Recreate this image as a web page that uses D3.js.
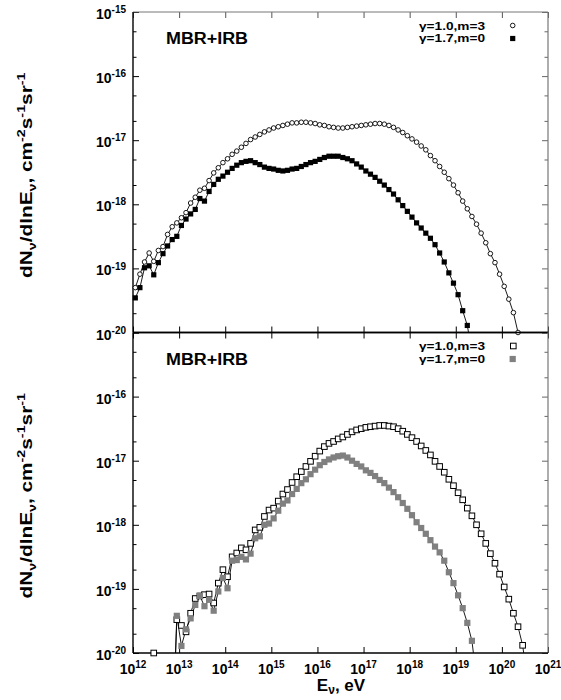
<!DOCTYPE html>
<html><head><meta charset="utf-8">
<script src="https://cdn.jsdelivr.net/npm/d3@7"></script>
<style>
body{margin:0;background:#fff}
svg{display:block}
text{font-family:"Liberation Sans",Arial,Helvetica,sans-serif;font-weight:bold;fill:#000}
</style>
</head><body>
<svg id="c" width="561" height="700"></svg>
<script>
// ---------- DATA (log10 values) ----------
const logE = [
 12.05,12.15,12.25,12.35,12.45,12.55,12.65,12.75,12.85,12.95,
 13.05,13.15,13.25,13.35,13.45,13.55,13.65,13.75,13.85,13.95,
 14.05,14.15,14.25,14.35,14.45,14.55,14.65,14.75,14.85,14.95,
 15.05,15.15,15.25,15.35,15.45,15.55,15.65,15.75,15.85,15.95,
 16.05,16.15,16.25,16.35,16.45,16.55,16.65,16.75,16.85,16.95,
 17.05,17.15,17.25,17.35,17.45,17.55,17.65,17.75,17.85,17.95,
 18.05,18.15,18.25,18.35,18.45,18.55,18.65,18.75,18.85,18.95,
 19.05,19.15,19.25,19.35,19.45,19.55,19.65,19.75,19.85,19.95,
 20.05,20.15,20.25,20.35,20.45,20.55];

// top panel, gamma=1.0, m=3 (open circles): log10 dN/dlnE
const topOpen = [
 -19.30,-19.09,-18.90,-18.76,-18.89,-18.72,-18.66,-18.47,-18.35,-18.29,
 -18.21,-18.13,-17.98,-17.89,-17.78,-17.75,-17.63,-17.51,-17.43,-17.35,
 -17.29,-17.22,-17.17,-17.11,-17.05,-16.99,-16.95,-16.91,-16.87,-16.84,
 -16.81,-16.79,-16.77,-16.75,-16.73,-16.73,-16.72,-16.72,-16.73,-16.74,
 -16.76,-16.77,-16.79,-16.80,-16.81,-16.81,-16.80,-16.79,-16.78,-16.77,
 -16.76,-16.75,-16.74,-16.74,-16.75,-16.77,-16.80,-16.84,-16.88,-16.93,
 -16.98,-17.03,-17.09,-17.15,-17.24,-17.32,-17.41,-17.50,-17.60,-17.70,
 -17.82,-17.95,-18.07,-18.19,-18.31,-18.45,-18.60,-18.77,-18.91,-19.09,
 -19.28,-19.48,-19.69,-20.00,null,null];

// top panel, gamma=1.7, m=0 (filled black squares)
const topFilled = [
 -19.46,-19.30,-18.99,-18.96,-19.10,-18.91,-18.77,-18.65,-18.55,-18.50,
 -18.33,-18.23,-18.15,-18.08,-17.91,-17.95,-17.80,-17.69,-17.61,-17.56,
 -17.50,-17.44,-17.39,-17.35,-17.33,-17.32,-17.35,-17.38,-17.42,-17.44,
 -17.45,-17.47,-17.48,-17.47,-17.45,-17.44,-17.41,-17.38,-17.35,-17.33,
 -17.30,-17.27,-17.25,-17.25,-17.25,-17.27,-17.29,-17.32,-17.37,-17.42,
 -17.48,-17.53,-17.58,-17.64,-17.70,-17.77,-17.84,-17.93,-18.02,-18.11,
 -18.20,-18.29,-18.37,-18.45,-18.53,-18.63,-18.76,-18.90,-19.07,-19.23,
 -19.41,-19.66,-19.89,-20.30,null,null,null,null,null,null,
 null,null,null,null,null,null];

// bottom panel, gamma=1.0, m=3 (open squares)
const botOpen = [
 null,null,null,null,-20.00,null,null,null,-21.50,-19.48,
 -19.57,-19.67,-19.38,-19.15,-19.11,-19.09,-19.08,-19.22,-18.91,-18.70,
 -18.81,-18.50,-18.44,-18.36,-18.39,-18.29,-18.08,-18.04,-17.87,-17.77,
 -17.74,-17.63,-17.52,-17.45,-17.34,-17.25,-17.17,-17.09,-17.01,-16.93,
 -16.85,-16.78,-16.73,-16.70,-16.66,-16.63,-16.59,-16.55,-16.52,-16.50,
 -16.48,-16.47,-16.46,-16.45,-16.45,-16.46,-16.47,-16.50,-16.54,-16.59,
 -16.64,-16.70,-16.77,-16.84,-16.91,-17.01,-17.09,-17.18,-17.29,-17.39,
 -17.50,-17.61,-17.74,-17.86,-18.00,-18.14,-18.29,-18.45,-18.60,-18.77,
 -18.97,-19.16,-19.38,-19.59,-19.88,-20.40];

// bottom panel, gamma=1.7, m=0 (grey filled squares)
const botGray = [
 null,null,null,null,null,null,null,null,-21.50,-19.42,
 -19.89,-19.63,-19.46,-19.25,-19.11,-19.27,-19.17,-19.34,-19.04,-18.83,
 -18.99,-18.56,-18.55,-18.50,-18.54,-18.45,-18.21,-18.18,-18.00,-17.98,
 -17.90,-17.78,-17.67,-17.62,-17.52,-17.44,-17.35,-17.29,-17.21,-17.14,
 -17.07,-17.02,-16.98,-16.95,-16.93,-16.92,-16.95,-17.00,-17.05,-17.09,
 -17.15,-17.19,-17.24,-17.30,-17.35,-17.42,-17.49,-17.57,-17.66,-17.75,
 -17.85,-17.96,-18.05,-18.14,-18.24,-18.34,-18.43,-18.56,-18.74,-18.91,
 -19.10,-19.30,-19.53,-19.81,-20.40,null,null,null,null,null,
 null,null,null,null,null,null];

const xTickExps = [12,13,14,15,16,17,18,19,20,21];
const yExpsTop = [-15,-16,-17,-18,-19,-20];
const yExpsBottom = [-16,-17,-18,-19,-20];
const legendLabels = ["\u03b3=1.0,m=3","\u03b3=1.7,m=0"];
const panelLabel = "MBR+IRB";

// ---------- LAYOUT ----------
const L = 133, R = 548, T = 12, M = 332.5, B = 653;
const svg = d3.select("#c");
const x = d3.scaleLog().domain([1e12,1e21]).range([L,R]);
const yTop = d3.scaleLog().domain([1e-20,1e-15]).range([M,T]);
const yBot = d3.scaleLog().domain([1e-20,1e-15]).range([B,M]);

function rich(sel, parts, base, small, subK){
  let cur = 0;
  parts.forEach(p=>{
    const off = p.sup ? -0.42*base : (p.sub ? (subK||0.28)*base : 0);
    sel.append("tspan").attr("dy", off-cur)
      .style("font-size", (p.sup||p.sub) ? small+"px" : base+"px").text(p.t);
    cur = off;
  });
}

const decades = d3.range(-20,-14,1).map(e=>Math.pow(10,e));
const minors = [];
for(let e=-20;e<-15;e++){ minors.push(2*Math.pow(10,e)); minors.push(5*Math.pow(10,e)); }
const xMaj = xTickExps.map(e=>Math.pow(10,e));

function ticks(g, axis){ g.call(axis).call(a=>a.select(".domain").remove()); }

function panel(y, top, bottom, id, open, filled, openShape, filledColor, isTop){
  const g = svg.append("g");
  svg.append("clipPath").attr("id",id).append("rect")
    .attr("x",L).attr("y",top).attr("width",R-L).attr("height",bottom-top);

  const mk = (ax, vals, size, col, tr) => {
    const a = g.append("g").attr("transform",tr);
    ticks(a, ax.tickValues(vals).tickSize(size).tickFormat(""));
    a.selectAll("line").attr("stroke",col).attr("stroke-width",1);
  };
  mk(d3.axisRight(y), decades, 6, "#000", `translate(${L},0)`);
  mk(d3.axisRight(y), minors, 3.5, "#000", `translate(${L},0)`);
  mk(d3.axisLeft(y), decades, 6, "#666", `translate(${R},0)`);
  mk(d3.axisLeft(y), minors, 3.5, "#666", `translate(${R},0)`);
  mk(d3.axisTop(x), xMaj, 6, "#000", `translate(0,${bottom})`);
  mk(d3.axisBottom(x), xMaj, 6, isTop ? "#555" : "#000", `translate(0,${top})`);

  g.append("line").attr("x1",L).attr("x2",R).attr("y1",top).attr("y2",top)
    .attr("stroke", isTop ? "#777" : "#000").attr("stroke-width", isTop?1:1.6);
  g.append("line").attr("x1",R).attr("x2",R).attr("y1",top).attr("y2",bottom)
    .attr("stroke","#777").attr("stroke-width",1.2);
  g.append("line").attr("x1",L).attr("x2",R).attr("y1",bottom).attr("y2",bottom)
    .attr("stroke","#000").attr("stroke-width",1.6);
  g.append("line").attr("x1",L).attr("x2",L).attr("y1",top).attr("y2",bottom)
    .attr("stroke","#000").attr("stroke-width",1.4);

  const line = d3.line().defined(d=>d[1]!=null)
    .x(d=>x(Math.pow(10,d[0]))).y(d=>y(Math.pow(10,d[1])));
  [open, filled].forEach(s=>{
    g.append("path").attr("clip-path",`url(#${id})`)
      .attr("d", line(logE.map((e,i)=>[e,s[i]])))
      .attr("fill","none").attr("stroke","#000").attr("stroke-width",0.9);
  });

  const pts = s => logE.map((e,i)=>[e,s[i]]).filter(d=>d[1]!=null && d[1]>=-20.01);
  if(openShape==="circle"){
    g.selectAll(null).data(pts(open)).enter().append("circle")
      .attr("cx",d=>x(Math.pow(10,d[0]))).attr("cy",d=>y(Math.pow(10,d[1])))
      .attr("r",2.3).attr("fill","#fff").attr("stroke","#000").attr("stroke-width",0.9);
  } else {
    const s=5.6;
    g.selectAll(null).data(pts(open)).enter().append("rect")
      .attr("x",d=>x(Math.pow(10,d[0]))-s/2).attr("y",d=>y(Math.pow(10,d[1]))-s/2)
      .attr("width",s).attr("height",s).attr("fill","#fff").attr("stroke","#000").attr("stroke-width",1);
  }
  const fs = isTop ? 5.2 : 6.2;
  g.selectAll(null).data(pts(filled)).enter().append("rect")
    .attr("x",d=>x(Math.pow(10,d[0]))-fs/2).attr("y",d=>y(Math.pow(10,d[1]))-fs/2)
    .attr("width",fs).attr("height",fs).attr("fill",filledColor);

  g.append("text").attr("x",166).attr("y",top+32).style("font-size","16px")
    .attr("textLength",82).attr("lengthAdjust","spacingAndGlyphs").text(panelLabel);

  const ly = [top+17.5, top+30];
  legendLabels.forEach((t,i)=>{
    g.append("text").attr("x",485).attr("y",ly[i]).attr("text-anchor","end")
      .style("font-size","11px").attr("textLength",66).attr("lengthAdjust","spacingAndGlyphs").text(t);
  });
  if(openShape==="circle"){
    g.append("circle").attr("cx",512.7).attr("cy",ly[0]-4).attr("r",2.3)
      .attr("fill","#fff").attr("stroke","#000").attr("stroke-width",0.9);
  } else {
    g.append("rect").attr("x",513.3-2.8).attr("y",ly[0]-4-2.8).attr("width",5.6).attr("height",5.6)
      .attr("fill","#fff").attr("stroke","#000").attr("stroke-width",1);
  }
  g.append("rect").attr("x",512.7-fs/2).attr("y",ly[1]-3.5-fs/2).attr("width",fs).attr("height",fs)
    .attr("fill",filledColor);

  const exps = isTop ? yExpsTop : yExpsBottom;
  exps.forEach(e=>{
    const t = g.append("text").attr("x",126).attr("y",y(Math.pow(10,e))+7).attr("text-anchor","end");
    rich(t,[{t:"10"},{t:String(e),sup:true}],14,10);
  });

  const cy = (top+bottom)/2 + 3;
  const yt = g.append("text").attr("transform",`translate(32,${cy}) rotate(-90) scale(1.3,1)`).attr("text-anchor","middle");
  rich(yt,[{t:"dN"},{t:"\u03bd",sub:true},{t:"/dlnE"},{t:"\u03bd",sub:true},{t:", cm"},{t:"-2",sup:true},
           {t:"s"},{t:"-1",sup:true},{t:"sr"},{t:"-1",sup:true}],16,11);
}

panel(yTop, T, M, "clipTop", topOpen, topFilled, "circle", "#000", true);
panel(yBot, M, B, "clipBot", botOpen, botGray, "square", "#808080", false);

xTickExps.forEach(e=>{
  const t = svg.append("text").attr("x",x(Math.pow(10,e))).attr("y",674).attr("text-anchor","middle");
  rich(t,[{t:"10"},{t:String(e),sup:true}],14,10);
});
const xt = svg.append("text").attr("x",341).attr("y",691).attr("text-anchor","middle");
rich(xt,[{t:"E"},{t:"\u03bd",sub:true},{t:", eV"}],17,12,0.2);
</script>
</body></html>
